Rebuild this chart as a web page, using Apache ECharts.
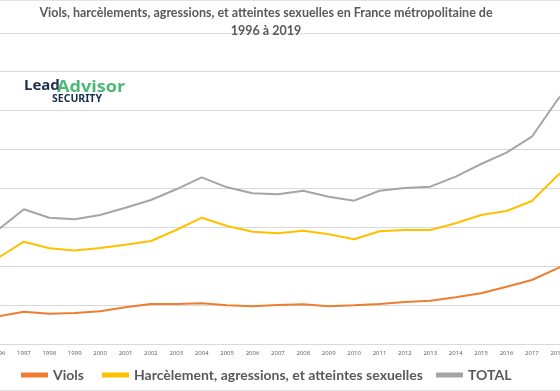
<!DOCTYPE html>
<html>
<head>
<meta charset="utf-8">
<script src="https://cdn.jsdelivr.net/npm/echarts@6/dist/echarts.min.js"></script>
<style>html,body{margin:0;padding:0;background:#fff}#c{width:560px;height:391px}</style>
</head>
<body>
<div id="c"></div>
<script>
const years = ['1996','1997','1998','1999','2000','2001','2002','2003','2004','2005','2006','2007','2008','2009','2010','2011','2012','2013','2014','2015','2016','2017','2018','2019'];
const viols = [7120,8300,7790,7970,8410,9430,10280,10280,10460,9950,9690,10030,10210,9690,9950,10280,10800,11130,12000,13030,14730,16450,19460,22500];
const harcelement = [22210,26300,24600,24040,24680,25530,26480,29310,32470,30330,28870,28460,29130,28200,26920,28970,29310,29310,31030,33160,34190,36760,43270,48000];
const total = [29430,34630,32470,32060,33160,35040,37020,39770,42850,40280,38740,38480,39410,37870,36840,39410,40100,40440,43010,46270,49180,53290,62720,70500];
const seriesNames = ['Viols','Harcèlement, agressions, et atteintes sexuelles','TOTAL'];
const titleText = 'Viols, harcèlements, agressions, et atteintes sexuelles en France métropolitaine de\n1996 à 2019';

const chart = echarts.init(document.getElementById('c'), null, {renderer:'canvas'});
const legendText = {color:'#595959', fontSize:14, fontWeight:'bold', fontFamily:'Lato'};
const mkLegend = (name, left) => ({
  data:[name], left:left, top:368, icon:'rect', itemWidth:27, itemHeight:5, itemGap:0,
  textStyle:legendText, padding:0
});
chart.setOption({
  animation:false,
  title:{text:titleText, left:261, textAlign:'center', top:-1,
    textStyle:{color:'#595959', fontSize:12.5, fontWeight:'bold', fontFamily:'Lato', lineHeight:18}},
  legend:[mkLegend(seriesNames[0],21), mkLegend(seriesNames[1],102), mkLegend(seriesNames[2],436)],
  grid:{left:-14.2, width:609.6, top:32.8, bottom:47, containLabel:false, outerBoundsMode:'none'},
  xAxis:{type:'category', data:years, boundaryGap:true,
    axisLine:{lineStyle:{color:'#d9d9d9'}}, axisTick:{show:false},
    axisLabel:{color:'#595959', fontSize:6, fontFamily:'Open Sans', margin:6}},
  yAxis:{type:'value', min:0, max:80000, interval:10000,
    axisLabel:{show:false}, axisLine:{show:false}, axisTick:{show:false},
    splitLine:{lineStyle:{color:'#d9d9d9', width:1}}},
  graphic:[
    {type:'line', shape:{x1:0,y1:0.5,x2:560,y2:0.5}, style:{stroke:'#e3e3e3',lineWidth:1}},
    {type:'line', shape:{x1:0,y1:390.5,x2:560,y2:390.5}, style:{stroke:'#e3e3e3',lineWidth:1}},
    {type:'text', x:24, y:78, style:{text:'Lead', fill:'#1b2f4e', font:'bold 15px "Noto Sans"'}},
    {type:'text', x:57, y:79.5, scaleX:1.13, style:{text:'Advisor', fill:'#4cb878', font:'bold 16px "Open Sans"'}},
    {type:'text', x:52, y:94, style:{text:'SECURITY', fill:'#1b2f4e', font:'bold 10.5px "Noto Sans"'}}
  ],
  series:[
    {name:seriesNames[0], type:'line', data:viols, showSymbol:false, lineStyle:{width:2, color:'#ED7D31'}, itemStyle:{color:'#ED7D31'}},
    {name:seriesNames[1], type:'line', data:harcelement, showSymbol:false, lineStyle:{width:2, color:'#FFC000'}, itemStyle:{color:'#FFC000'}},
    {name:seriesNames[2], type:'line', data:total, showSymbol:false, lineStyle:{width:2, color:'#A5A5A5'}, itemStyle:{color:'#A5A5A5'}}
  ]
});
</script>
</body>
</html>
